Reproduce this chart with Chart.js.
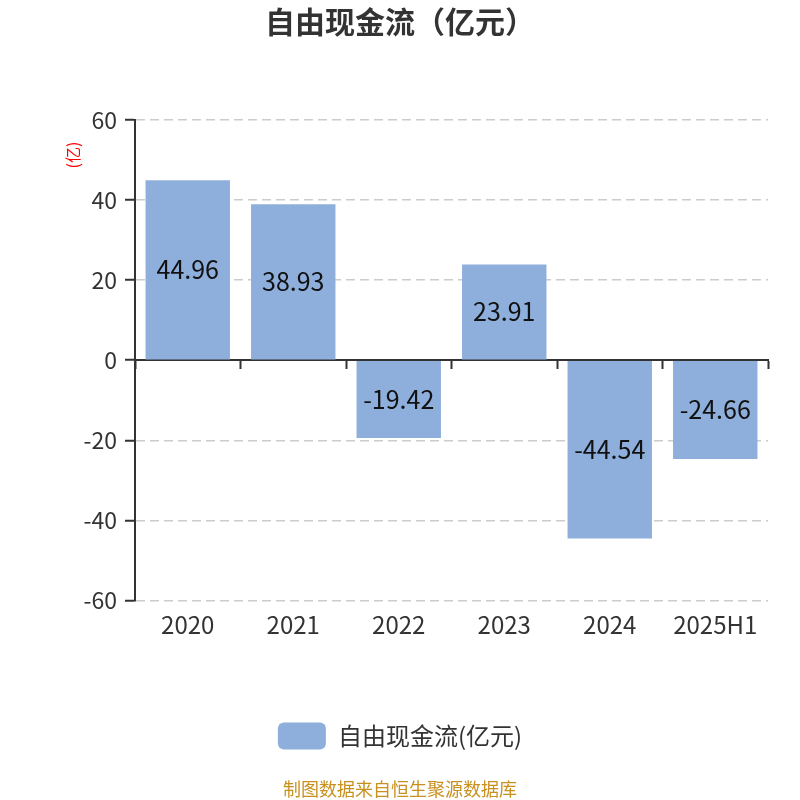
<!DOCTYPE html>
<html lang="zh">
<head>
  <meta charset="UTF-8">
  <title>自由现金流</title>
  <script src="https://cdn.jsdelivr.net/npm/chart.js"></script>
  <style>
    body { margin: 0; background: #fff; }
  </style>
</head>
<body>
  <canvas id="cashChart" width="800" height="800"></canvas>
  <script>
    var years = ['2020', '2021', '2022', '2023', '2024', '2025H1'];
    var freeCashFlow = [44.96, 38.93, -19.42, 23.91, -44.54, -24.66];
    var seriesName = '自由现金流(亿元)';
    var yTicks = [-60, -40, -20, 0, 20, 40, 60];

    var fontFamily = "'Noto Sans CJK SC', 'Noto Sans', sans-serif";

    // value labels in the middle of each bar, plus the red unit label
    var extras = {
      id: 'extras',
      afterDatasetsDraw: function (chart) {
        var ctx = chart.ctx;
        var meta = chart.getDatasetMeta(0);
        ctx.save();
        ctx.font = '25px ' + fontFamily;
        ctx.fillStyle = '#111';
        ctx.textAlign = 'center';
        ctx.textBaseline = 'middle';
        meta.data.forEach(function (bar, i) {
          var mid = (bar.y + bar.base) / 2;
          ctx.fillText(freeCashFlow[i].toFixed(2), bar.x, mid);
        });
        ctx.restore();
      },
      afterDraw: function (chart) {
        var ctx = chart.ctx;
        ctx.save();
        ctx.translate(73, 155);
        ctx.rotate(-Math.PI / 2);
        ctx.font = '16px ' + fontFamily;
        ctx.fillStyle = '#ff0000';
        ctx.textAlign = 'center';
        ctx.textBaseline = 'middle';
        ctx.fillText('(亿)', 0, 0);
        ctx.restore();
      }
    };

    new Chart(document.getElementById('cashChart'), {
      type: 'bar',
      data: {
        labels: years,
        datasets: [{
          label: seriesName,
          data: freeCashFlow,
          backgroundColor: '#8eaedb',
          borderWidth: 0,
          categoryPercentage: 0.8,
          barPercentage: 1.0
        }]
      },
      options: {
        responsive: false,
        animation: false,
        layout: { padding: 0 },
        plugins: {
          title: {
            display: true,
            text: '自由现金流（亿元）',
            color: '#333',
            font: { family: fontFamily, size: 30, weight: 'bold' },
            padding: { top: 4, bottom: 80 }
          },
          subtitle: {
            display: true,
            position: 'bottom',
            text: '制图数据来自恒生聚源数据库',
            color: '#c8901e',
            font: { family: fontFamily, size: 18 },
            padding: { top: 19, bottom: 0 }
          },
          legend: {
            position: 'bottom',
            labels: {
              boxWidth: 48,
              boxHeight: 27,
              useBorderRadius: true,
              borderRadius: 6,
              padding: 10,
              color: '#333',
              font: { family: fontFamily, size: 24 }
            }
          },
          tooltip: { enabled: false }
        },
        scales: {
          x: {
            position: 'bottom',
            border: { display: false },
            grid: { display: false, drawTicks: false },
            ticks: {
              color: '#333',
              padding: 10,
              font: { family: fontFamily, size: 24 }
            },
            afterFit: function (scale) { scale.height = 112; }
          },
          xZero: {
            type: 'category',
            labels: years,
            position: { y: 0 },
            offset: true,
            border: { display: true, color: '#333', width: 2 },
            grid: {
              offset: true,
              drawOnChartArea: false,
              drawTicks: true,
              tickLength: 8,
              tickWidth: 2,
              color: '#333'
            },
            ticks: { display: false }
          },
          y: {
            min: -60,
            max: 60,
            afterBuildTicks: function (scale) {
              scale.ticks = yTicks.map(function (v) { return { value: v }; });
            },
            border: { display: true, color: '#333', width: 2, dash: [9, 5] },
            grid: {
              color: function (c) { return c.tick && c.tick.value === 0 ? 'rgba(0,0,0,0)' : '#cccccc'; },
              lineWidth: 1.5,
              tickLength: 10,
              tickColor: '#333',
              tickBorderDash: [],
              tickWidth: 2
            },
            ticks: {
              color: '#333',
              padding: 8,
              font: { family: fontFamily, size: 23 }
            },
            afterFit: function (scale) { scale.width = 135; }
          },
          // empty right axis, only keeps a margin on the right side
          yRight: {
            position: 'right',
            min: -60,
            max: 60,
            border: { display: false },
            grid: { display: false, drawTicks: false },
            ticks: { display: false },
            afterFit: function (scale) { scale.width = 32; }
          }
        }
      },
      plugins: [extras]
    });
  </script>
</body>
</html>
